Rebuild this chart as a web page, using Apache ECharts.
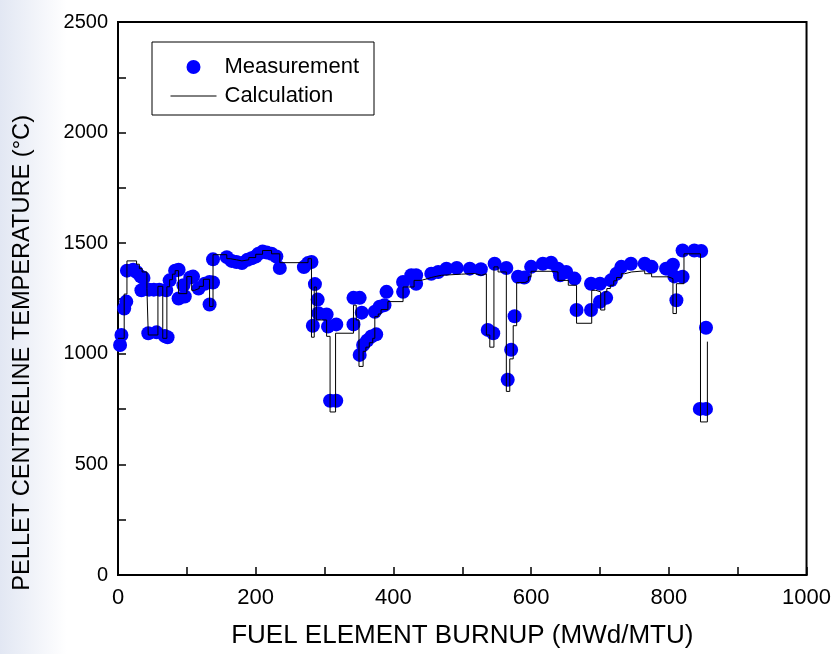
<!DOCTYPE html>
<html>
<head>
<meta charset="utf-8">
<script src="https://cdn.jsdelivr.net/npm/echarts@6/dist/echarts.min.js"></script>
<style>html,body{margin:0;padding:0;background:#fff}#c{width:834px;height:654px}</style>
</head>
<body>
<div id="c"></div>
<script>
// Measurement points: [burnup, temperature]
const measurement = [
[3,1040],[5,1085],[9,1205],[12,1236],[13,1376],[22,1380],[27,1370],[33,1350],[37,1343],[34,1287],[45,1290],[52,1290],[60,1290],
[44,1093],[56,1097],[68,1080],[72,1075],[70,1287],[75,1332],[83,1376],[88,1380],[88,1250],[95,1310],[97,1259],[105,1345],[109,1349],
[117,1295],[126,1317],[133,1325],[138,1322],[133,1223],[138,1427],[158,1437],[165,1420],[172,1415],[180,1410],[188,1425],[194,1432],
[200,1440],[204,1452],[210,1462],[216,1458],[223,1452],[230,1440],[235,1388],[270,1392],[276,1410],[281,1415],[286,1315],[290,1245],
[291,1183],[283,1127],[303,1178],[305,1123],[317,1133],[308,788],[317,788],[342,1253],[351,1253],[342,1133],[354,1186],[351,995],
[356,1040],[362,1060],[368,1078],[375,1088],[373,1190],[380,1213],[387,1220],[390,1280],[414,1325],[414,1280],[426,1355],[433,1355],
[433,1317],[455,1362],[465,1370],[477,1385],[492,1388],[511,1385],[527,1382],[547,1407],[564,1388],[537,1108],[545,1093],[566,883],
[571,1018],[576,1170],[581,1348],[590,1345],[600,1393],[617,1407],[629,1412],[639,1385],[642,1355],[651,1370],[663,1340],[666,1198],
[687,1198],[687,1317],[700,1317],[700,1235],[709,1253],[716,1332],[724,1362],[731,1393],[745,1407],[765,1407],[775,1393],[796,1385],
[806,1403],[808,1350],[820,1348],[811,1242],[820,1467],[837,1467],[847,1465],[854,1118],[845,751],[854,751]
];
// Calculation (step line): [burnup at which value starts, temperature]
const calculation = [
[0,1070],[9,1270],[13,1420],[27,1405],[31,1385],[35,1370],[42,1295],[44,1085],[58,1305],[65,1070],[71,1303],[75,1335],[79,1360],
[83,1376],[88,1272],[100,1349],[107,1287],[111,1295],[118,1305],[124,1337],[133,1214],[138,1448],[158,1430],[163,1425],[172,1420],
[180,1425],[190,1435],[200,1450],[210,1467],[223,1452],[235,1412],[276,1430],[281,1075],[285,1302],[288,1153],[303,1079],[308,737],
[316,1093],[342,1220],[346,1153],[350,943],[356,1011],[360,1030],[365,1050],[370,1070],[373,1168],[378,1180],[382,1200],[392,1236],
[414,1302],[430,1332],[440,1340],[450,1345],[455,1350],[462,1355],[470,1360],[499,1363],[518,1355],[528,1362],[535,1085],[540,1030],
[546,1393],[552,1370],[564,830],[569,977],[574,1127],[579,1322],[591,1330],[596,1348],[600,1373],[629,1370],[639,1332],[654,1310],
[666,1138],[688,1287],[694,1280],[701,1198],[707,1280],[710,1295],[715,1310],[720,1330],[724,1345],[731,1362],[736,1370],[746,1375],
[765,1362],[775,1348],[799,1340],[806,1182],[811,1317],[822,1452],[846,692],[856,1055]
];
const xTitle = 'FUEL ELEMENT BURNUP (MWd/MTU)';
const yTitle = 'PELLET CENTRELINE TEMPERATURE (°C)';
const seriesNames = ['Measurement', 'Calculation'];

const chart = echarts.init(document.getElementById('c'));
const font = 'Liberation Sans, Arial, sans-serif';
chart.setOption({
  animation: false,
  backgroundColor: {type:'linear',x:0,y:0,x2:1,y2:0,colorStops:[{offset:0,color:'#e2e7f3'},{offset:0.08,color:'#ffffff'},{offset:1,color:'#ffffff'}]},
  grid: {left:118, right:27, top:22, bottom:76, show:true, borderColor:'#000', borderWidth:2, backgroundColor:'transparent'},
  legend: {
    left:152, top:42, orient:'vertical',
    backgroundColor:'#fff', borderColor:'#000', borderWidth:1,
    padding:[14,15,8,18], itemWidth:46, itemHeight:14, itemGap:7,
    textStyle:{fontFamily:font, fontSize:22, color:'#000', padding:[0,0,0,3]},
    data:[
      {name:seriesNames[0], icon:'circle'},
      {name:seriesNames[1], itemStyle:{opacity:0}, lineStyle:{color:'#000', width:1}}
    ]
  },
  xAxis: {
    type:'value', min:0, max:1000, interval:200,
    name:xTitle, nameLocation:'middle', nameGap:48,
    nameTextStyle:{fontFamily:font, fontSize:26, color:'#000'},
    axisLine:{show:true, onZero:false, lineStyle:{color:'#000', width:2}},
    axisTick:{show:true, inside:true, length:8, lineStyle:{color:'#000', width:1.5}},
    minorTick:{show:true, splitNumber:2, length:8, lineStyle:{color:'#000', width:1.5}},
    axisLabel:{fontFamily:font, fontSize:22, color:'#000', margin:12, formatter:function(v){return String(v);}},
    splitLine:{show:false}
  },
  yAxis: {
    type:'value', min:0, max:2500, interval:500,
    axisLine:{show:true, onZero:false, lineStyle:{color:'#000', width:2}},
    axisTick:{show:true, inside:true, length:8, lineStyle:{color:'#000', width:1.5}},
    minorTick:{show:true, splitNumber:2, length:8, lineStyle:{color:'#000', width:1.5}},
    axisLabel:{fontFamily:font, fontSize:20, color:'#000', margin:10, formatter:function(v){return String(v);}},
    splitLine:{show:false}
  },
  graphic: [{
    type:'text', left:10, top:115, rotation:Math.PI/2,
    style:{text:yTitle, font:'23.6px Liberation Sans, Arial, sans-serif', fill:'#000'}
  }],
  series: [
    {name:seriesNames[0], type:'scatter', data:measurement, symbol:'circle', symbolSize:14,
     itemStyle:{color:'#0000ff', opacity:1}, z:2},
    {name:seriesNames[1], type:'line', data:calculation, step:'end', showSymbol:false, symbol:'none',
     lineStyle:{color:'#000', width:1}, itemStyle:{color:'#000'}, z:3}
  ]
});
</script>
</body>
</html>
